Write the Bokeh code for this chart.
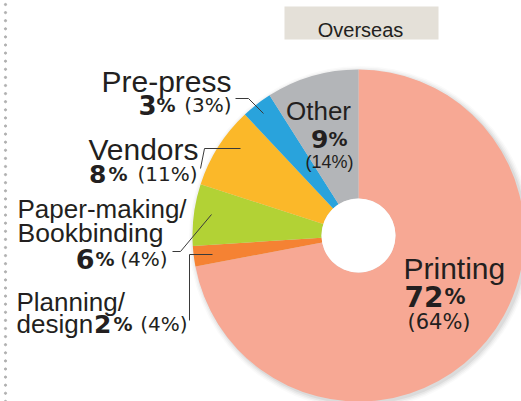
from bokeh.plotting import figure
from bokeh.models import Range1d
from bokeh.core.properties import value
from bokeh.embed import file_html
from bokeh.resources import INLINE
import numpy as np

# ---- data ----
categories = ["Printing", "Planning/design", "Paper-making/Bookbinding", "Vendors", "Pre-press", "Other"]
share = [72, 2, 6, 8, 3, 9]          # current share (%)
prev_share = [64, 4, 4, 11, 3, 14]   # share in parentheses (%)
colors = ["#f7a894", "#f58233", "#b2d235", "#fbb829", "#29a3dc", "#b3b5b8"]
title = "Overseas"

H = 401  # reference pixel height; data y = H - pixel y

p = figure(width=521, height=401, x_range=Range1d(0, 521), y_range=Range1d(0, 401),
           output_backend="svg", toolbar_location=None, min_border=0)
p.axis.visible = False
p.grid.visible = False
p.outline_line_color = None
p.background_fill_color = "white"

LIB = "Liberation Sans"
DJV = "DejaVu Sans"
DARK = "#231f20"

def Y(py):
    return H - py

def txt(x, py, s, size, bold=False, align="left", font=LIB):
    p.text(x=[x], y=[Y(py)], text=[s], text_font=value(font), text_font_size=f"{size}px",
           text_font_style="bold" if bold else "normal", text_align=align,
           text_baseline="alphabetic", text_color=DARK)

# dotted left rule
dots_y = np.arange(4, 401, 8.1)
p.scatter(x=[5] * len(dots_y), y=[Y(v) for v in dots_y], size=2.2, color="#b0b0b0", marker="circle")

# title box
p.rect(x=[361], y=[Y(22.5)], width=154, height=33, fill_color="#e4e0d8", line_color=None)
txt(360, 29, title, 20, align="center")

# pie
cx, cy, R, r = 358, Y(235), 166, 37
# soft shadow
for i, a in enumerate([0.05, 0.04, 0.03, 0.02]):
    p.circle(x=[cx + 2], y=[cy - 2], radius=R + 1 + i * 1.5, fill_color="black", fill_alpha=a, line_color=None)
cum = np.concatenate([[0], np.cumsum(share)])
starts = [np.pi / 2 - 2 * np.pi * c / 100 for c in cum[:-1]]
ends = [np.pi / 2 - 2 * np.pi * c / 100 for c in cum[1:]]
p.annular_wedge(x=cx, y=cy, inner_radius=r, outer_radius=R, start_angle=starts, end_angle=ends,
                direction="clock", fill_color=colors, line_color=None)
p.circle(x=[cx], y=[cy], radius=r, fill_color="white", line_color=None)

# connector lines (pixel coords)
conns = [
    ([235, 248, 263], [98, 98, 113]),
    ([200, 204, 240], [168, 148, 148]),
    ([172, 180, 211], [251, 251, 214]),
    ([189, 189, 212], [320, 254, 254]),
]
for xs, ys in conns:
    p.line(x=xs, y=[Y(v) for v in ys], line_color="#3a3a3a", line_width=1)

# labels
def pct(i):
    return f"{share[i]}", "%", f"({prev_share[i]}%)"

# Printing
a, b, c = pct(0)
txt(403, 268, "Printing", 30)
txt(443, 296, a, 28, bold=True, align="right", font=DJV)
txt(444, 296, b, 21, bold=True, font=DJV)
txt(407, 321, c, 21, font=DJV)

# Planning/design
a, b, c = pct(1)
txt(16, 301, "Planning/", 26)
txt(16, 323, "design", 26)
txt(111, 323, a, 25, bold=True, align="right", font=DJV)
txt(132, 323, b, 19, bold=True, align="right", font=DJV)
txt(187, 323, c, 20, align="right", font=DJV)

# Paper-making/Bookbinding
a, b, c = pct(2)
txt(17, 208, "Paper-making/", 26)
txt(17, 232, "Bookbinding", 26.5)
txt(94, 258, a, 27, bold=True, align="right", font=DJV)
txt(114, 258, b, 19, bold=True, align="right", font=DJV)
txt(167, 258, c, 20, align="right", font=DJV)

# Vendors
a, b, c = pct(3)
txt(198, 149, "Vendors", 30, align="right")
txt(106, 173, a, 25, bold=True, align="right", font=DJV)
txt(127, 173, b, 19, bold=True, align="right", font=DJV)
txt(197, 173, c, 20, align="right", font=DJV)

# Pre-press
a, b, c = pct(4)
txt(231, 81, "Pre-press", 30, align="right")
txt(156, 104, a, 26, bold=True, align="right", font=DJV)
txt(175, 104, b, 19, bold=True, align="right", font=DJV)
txt(231, 104, c, 20, align="right", font=DJV)

# Other
a, b, c = pct(5)
txt(318, 110, "Other", 26, align="center")
txt(328, 138, a, 25, bold=True, align="right", font=DJV)
txt(347, 138, b, 19, bold=True, align="right", font=DJV)
txt(353, 161, c, 18, align="right")

open("out.html", "w").write(file_html(p, INLINE))
